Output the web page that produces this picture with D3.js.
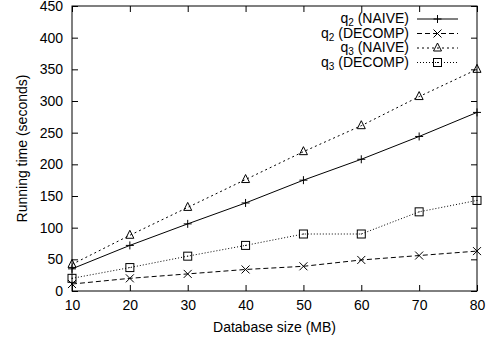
<!DOCTYPE html>
<html>
<head>
<meta charset="utf-8">
<script src="https://cdn.jsdelivr.net/npm/d3@7"></script>
<style>
  body { margin: 0; background: #fff; }
  svg { font-family: "Liberation Sans", Arial, sans-serif; }
</style>
</head>
<body>
<div class="graph"></div>
<script>
// data
const sizes = [10, 20, 30, 40, 50, 60, 70, 80];
const q2Naive = [35, 72, 106, 139, 175, 208, 244, 282];
const q2Decomp = [11, 20, 27, 34, 39, 49, 56, 63];
const q3Naive = [42, 88, 132, 176, 220, 261, 307, 350];
const q3Decomp = [20, 37, 55, 72, 90, 90, 125, 143];
const xTicks = [10, 20, 30, 40, 50, 60, 70, 80];
const yTicks = [0, 50, 100, 150, 200, 250, 300, 350, 400, 450];

const series = [
  { q: "3", name: "(DECOMP)", values: q3Decomp, dash: "1,2", marker: "square" },
  { q: "3", name: "(NAIVE)", values: q3Naive, dash: "2,3", marker: "triangle" },
  { q: "2", name: "(DECOMP)", values: q2Decomp, dash: "5,3", marker: "cross" },
  { q: "2", name: "(NAIVE)", values: q2Naive, dash: null, marker: "plus" }
];
const legendOrder = [3, 2, 1, 0];

function main() {
  //setting
  const width = 490;
  const height = 345;
  const left = 72, right = 477, top = 6, bottom = 291;
  const tickLen = 6;
  const fs = 14;

  const xScale = d3.scaleLinear().domain([10, 80]).range([left, right]);
  const yScale = d3.scaleLinear().domain([0, 450]).range([bottom, top]);

  const svg = d3
    .select(".graph")
    .append("svg")
    .attr("width", width)
    .attr("height", height);

  //axes (ticks inward, mirrored)
  const axisStyle = g => {
    g.select(".domain").remove();
    g.selectAll("line").attr("stroke", "#000");
    g.selectAll("text").attr("font-size", fs).attr("fill", "#000");
  };
  svg.append("g")
    .attr("transform", "translate(0," + bottom + ")")
    .call(d3.axisBottom(xScale).tickValues(xTicks).tickSizeInner(-tickLen).tickSizeOuter(0).tickPadding(9))
    .call(axisStyle);
  svg.append("g")
    .attr("transform", "translate(0," + top + ")")
    .call(d3.axisTop(xScale).tickValues(xTicks).tickSizeInner(-tickLen).tickSizeOuter(0).tickFormat(""))
    .call(axisStyle);
  svg.append("g")
    .attr("transform", "translate(" + left + ",0)")
    .call(d3.axisLeft(yScale).tickValues(yTicks).tickSizeInner(-tickLen).tickSizeOuter(0).tickPadding(9))
    .call(axisStyle);
  svg.append("g")
    .attr("transform", "translate(" + right + ",0)")
    .call(d3.axisRight(yScale).tickValues(yTicks).tickSizeInner(-tickLen).tickSizeOuter(0).tickFormat(""))
    .call(axisStyle);

  //frame
  svg.append("rect")
    .attr("x", left).attr("y", top)
    .attr("width", right - left).attr("height", bottom - top)
    .attr("fill", "none").attr("stroke", "#000");

  //axis labels
  svg.append("text")
    .attr("x", (left + right) / 2).attr("y", 332)
    .attr("text-anchor", "middle").attr("font-size", fs)
    .text("Database size (MB)");
  svg.append("text")
    .attr("transform", "translate(27," + ((top + bottom) / 2) + ") rotate(-90)")
    .attr("text-anchor", "middle").attr("font-size", fs)
    .text("Running time (seconds)");

  const line = d3.line().x((d, i) => xScale(sizes[i])).y(d => yScale(d));

  function drawMarker(g, type, x, y) {
    const s = 4;
    if (type === "plus") {
      g.append("path").attr("d", `M${x - s},${y}H${x + s}M${x},${y - s}V${y + s}`)
        .attr("stroke", "#000").attr("fill", "none");
    } else if (type === "cross") {
      g.append("path").attr("d", `M${x - s},${y - s}L${x + s},${y + s}M${x - s},${y + s}L${x + s},${y - s}`)
        .attr("stroke", "#000").attr("fill", "none");
    } else if (type === "triangle") {
      g.append("path").attr("d", `M${x},${y - s - 1}L${x + s},${y + s - 1}L${x - s},${y + s - 1}Z`)
        .attr("stroke", "#000").attr("fill", "none");
    } else {
      g.append("rect").attr("x", x - s).attr("y", y - s).attr("width", 2 * s).attr("height", 2 * s)
        .attr("stroke", "#000").attr("fill", "none");
      g.append("rect").attr("x", x - 0.5).attr("y", y - 0.5).attr("width", 1).attr("height", 1)
        .attr("fill", "#000");
    }
  }

  //lines + markers
  series.forEach(s => {
    svg.append("path")
      .datum(s.values)
      .attr("d", line)
      .attr("fill", "none")
      .attr("stroke", "#000")
      .attr("stroke-width", 1)
      .attr("stroke-dasharray", s.dash);
    const g = svg.append("g");
    s.values.forEach((v, i) => drawMarker(g, s.marker, xScale(sizes[i]), yScale(v)));
  });

  //legend
  legendOrder.forEach((si, k) => {
    const s = series[si];
    const y = 19 + k * 14.5;
    const t = svg.append("text")
      .attr("x", 409).attr("y", y + 4)
      .attr("text-anchor", "end").attr("font-size", fs);
    t.append("tspan").text("q");
    t.append("tspan").attr("font-size", 10).attr("dy", 3).text(s.q);
    t.append("tspan").attr("dy", -3).text(" " + s.name);
    svg.append("line")
      .attr("x1", 417).attr("x2", 458).attr("y1", y).attr("y2", y)
      .attr("stroke", "#000").attr("stroke-dasharray", s.dash);
    drawMarker(svg.append("g"), s.marker, 437.5, y);
  });
}

main();
</script>
</body>
</html>
